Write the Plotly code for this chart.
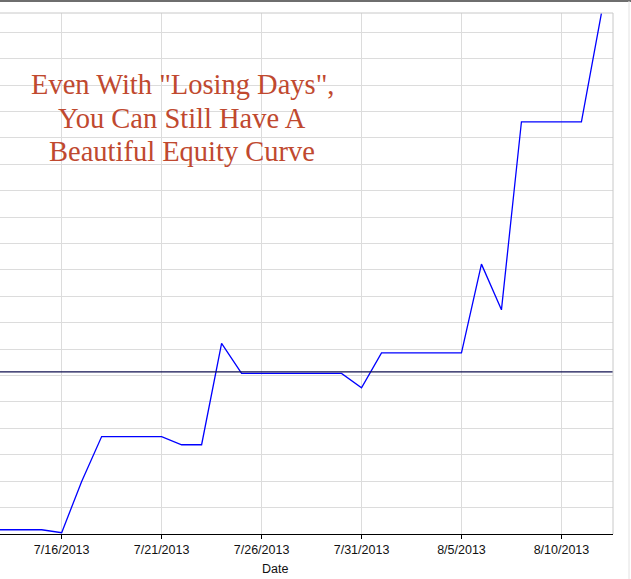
import pandas as pd
import plotly.graph_objects as go

# ---- data ----
dates = pd.date_range("2013-07-12", "2013-08-12", freq="D")
equity = [16, 16, 16, 16, 5, 199, 369, 369, 369, 369, 338, 338, 722, 608,
          608, 608, 608, 608, 608, 554, 686, 686, 686, 686, 686, 1022, 849,
          1561, 1561, 1561, 1561, 1972]
baseline = 614
tick_vals = ["2013-07-16", "2013-07-21", "2013-07-26", "2013-07-31", "2013-08-05", "2013-08-10"]
tick_text = ["7/16/2013", "7/21/2013", "7/26/2013", "7/31/2013", "8/5/2013", "8/10/2013"]
title_lines = ['Even With "Losing Days",', "You Can Still Have A", "Beautiful Equity Curve"]

W, H = 631, 579
ml, mr, mt, mb = 0, 18, 13, 45
pw = W - ml - mr
ph = H - mt - mb

base = pd.Timestamp("2013-07-16")
px_per_day = 20.0
x_left = base - pd.Timedelta(days=61.7 / px_per_day)
x_right = base + pd.Timedelta(days=(613.3 - 61.7) / px_per_day)

fig = go.Figure()
fig.add_trace(go.Scatter(x=dates, y=equity, mode="lines",
                         line=dict(color="#0000FF", width=1.3), showlegend=False,
                         hoverinfo="skip"))

fig.update_layout(
    width=W, height=H, autosize=False,
    margin=dict(l=ml, r=mr, t=mt, b=mb, pad=0),
    paper_bgcolor="white", plot_bgcolor="white",
    font=dict(family="Liberation Sans, Arial, sans-serif", size=12.5, color="#111111"),
    xaxis=dict(
        range=[x_left, x_right], tickvals=tick_vals, ticktext=tick_text,
        showgrid=True, gridcolor="#DCDCDC", gridwidth=1,
        showline=True, linecolor="black", linewidth=1.3,
        ticks="outside", ticklen=4, tickcolor="black", tickwidth=1,
        tickfont=dict(size=12.5, color="#111111"), zeroline=False,
    ),
    yaxis=dict(
        range=[0, 1973], dtick=100, tick0=0, showticklabels=False,
        showgrid=True, gridcolor="#DCDCDC", gridwidth=1,
        zeroline=False, showline=False, ticks="",
    ),
)

# baseline
fig.add_shape(type="line", xref="paper", yref="y", x0=0, x1=1, y0=baseline, y1=baseline,
              line=dict(color="#101050", width=1.1), layer="above")
# plot border (top & right)
fig.add_shape(type="line", xref="paper", yref="paper", x0=0, x1=1, y0=1, y1=1,
              line=dict(color="#C8C8C8", width=1))
fig.add_shape(type="line", xref="paper", yref="paper", x0=1, x1=1, y0=0, y1=1,
              line=dict(color="#C8C8C8", width=1))
# outer window frame
top_y = 1 + (mt - 1) / ph
fig.add_shape(type="line", xref="paper", yref="paper", x0=0, x1=W / pw, y0=top_y, y1=top_y,
              line=dict(color="#6E6E6E", width=2))
rx = (629 - ml) / pw
fig.add_shape(type="line", xref="paper", yref="paper", x0=rx, x1=rx, y0=-mb / ph, y1=top_y,
              line=dict(color="#E2E2E2", width=1))

# title annotation lines
baselines_px = [93.3, 127.3, 160.0]
for txt, by in zip(title_lines, baselines_px):
    cy = by - 9  # approx centre of text line
    fig.add_annotation(text=txt, xref="paper", yref="paper",
                       x=(182 - ml) / pw, y=1 - (cy - mt) / ph,
                       xanchor="center", yanchor="middle", showarrow=False,
                       font=dict(family="Liberation Serif, Times New Roman, serif",
                                 size=28.5, color="#C0492F"))

# axis title
fig.add_annotation(text="Date", xref="paper", yref="paper",
                   x=(275 - ml) / pw, y=-(569 - (H - mb)) / ph,
                   xanchor="center", yanchor="middle", showarrow=False,
                   font=dict(family="Liberation Sans, Arial, sans-serif", size=12.5, color="#111111"))

fig.write_html("out.html", config={"displayModeBar": False},
               post_script="document.body.style.margin='0px';document.body.style.overflow='hidden';")
